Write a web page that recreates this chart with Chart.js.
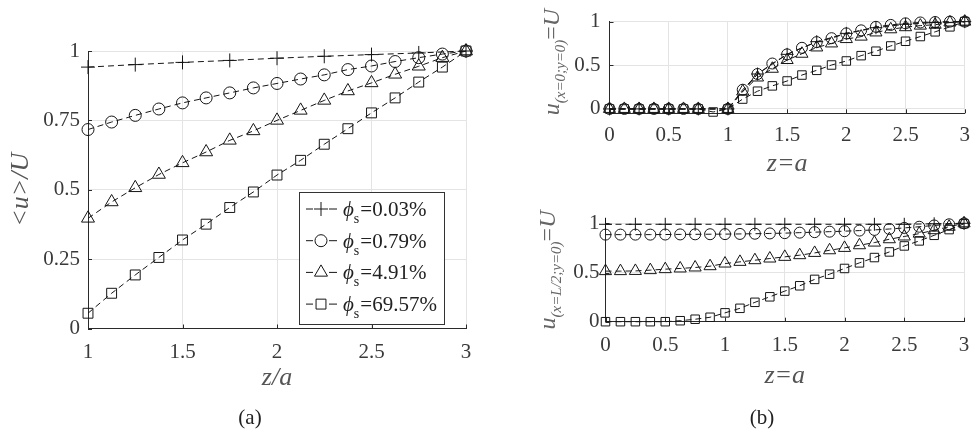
<!DOCTYPE html>
<html>
<head>
<meta charset="utf-8">
<script src="https://cdn.jsdelivr.net/npm/chart.js@4/dist/chart.umd.min.js"></script>
<style>
  html, body { margin: 0; padding: 0; background: #fff; }
  #wrap { position: relative; width: 980px; height: 429px; overflow: hidden; }
  canvas { position: absolute; }
  #cA { left: 0; top: 0; }
  #cB { left: 490px; top: 0; }
  #cC { left: 490px; top: 180px; }
</style>
</head>
<body>
<div id="wrap">
  <canvas id="cA" width="490" height="429"></canvas>
  <canvas id="cB" width="490" height="180"></canvas>
  <canvas id="cC" width="490" height="249"></canvas>
</div>
<script>
// (a) mean velocity <u>/U against z/a
const zLeft = [1, 1.125, 1.25, 1.375, 1.5, 1.625, 1.75, 1.875, 2, 2.125, 2.25, 2.375, 2.5, 2.625, 2.75, 2.875, 3];
const zLeftCoarse = [1, 1.25, 1.5, 1.75, 2, 2.25, 2.5, 2.75, 3];
const uAvg003 = [0.942, 0.951, 0.959, 0.966, 0.974, 0.981, 0.987, 0.993, 1.0];
const uAvg079 = [0.717, 0.744, 0.768, 0.791, 0.813, 0.831, 0.849, 0.867, 0.883, 0.899, 0.914, 0.933, 0.946, 0.962, 0.976, 0.989, 1.0];
const uAvg491 = [0.397, 0.456, 0.507, 0.555, 0.597, 0.636, 0.678, 0.712, 0.750, 0.786, 0.822, 0.856, 0.885, 0.916, 0.945, 0.976, 1.0];
const uAvg6957 = [0.055, 0.127, 0.193, 0.256, 0.319, 0.376, 0.436, 0.492, 0.553, 0.606, 0.664, 0.720, 0.777, 0.831, 0.888, 0.942, 1.0];
const phiLabels = ['0.03%', '0.79%', '4.91%', '69.57%'];

// (b) profiles at x=0 (top) and x=L/2 (bottom)
const zRight = [0, 0.125, 0.25, 0.375, 0.5, 0.625, 0.75, 0.875, 1, 1.125, 1.25, 1.375, 1.5, 1.625, 1.75, 1.875, 2, 2.125, 2.25, 2.375, 2.5, 2.625, 2.75, 2.875, 3];
const zRightCoarse = [0, 0.25, 0.5, 0.75, 1, 1.25, 1.5, 1.75, 2, 2.25, 2.5, 2.75, 3];
const uCenter003 = [0, 0, 0, 0, 0, 0.40, 0.625, 0.77, 0.865, 0.93, 0.97, 0.99, 1.0];
const uCenter079 = [0, 0, 0, 0, 0, 0, 0, null, 0, 0.22, 0.40, 0.52, 0.625, 0.70, 0.765, 0.81, 0.865, 0.90, 0.94, 0.962, 0.98, 0.99, 0.995, 1.0, 1.0];
const uCenter491 = [0, 0, 0, 0, 0, 0, 0, null, 0, 0.20, 0.36, 0.46, 0.56, 0.632, 0.704, 0.75, 0.80, 0.828, 0.876, 0.912, 0.936, 0.954, 0.964, 0.99, 1.0];
const uCenter6957 = [0, 0, 0, 0, 0, 0, 0, -0.035, 0, 0.113, 0.203, 0.264, 0.32, 0.388, 0.442, 0.503, 0.549, 0.61, 0.661, 0.721, 0.775, 0.829, 0.883, 0.94, 1.0];
const uMid003 = [0.99, 0.99, 0.99, 0.99, 0.99, 0.99, 0.99, 0.99, 0.99, 0.99, 0.99, 0.995, 1.0];
const uMid079 = [0.885, 0.885, 0.885, 0.885, 0.886, 0.887, 0.888, 0.889, 0.89, 0.892, 0.894, 0.897, 0.9, 0.905, 0.91, 0.915, 0.92, 0.926, 0.933, 0.942, 0.953, 0.965, 0.978, 0.99, 1.0];
const uMid491 = [0.514, 0.514, 0.516, 0.524, 0.534, 0.541, 0.551, 0.564, 0.591, 0.608, 0.625, 0.642, 0.659, 0.676, 0.699, 0.726, 0.75, 0.777, 0.804, 0.838, 0.866, 0.895, 0.93, 0.965, 1.0];
const uMid6957 = [0, 0, 0, 0, 0, 0.01, 0.025, 0.045, 0.09, 0.136, 0.197, 0.253, 0.311, 0.365, 0.43, 0.483, 0.541, 0.598, 0.652, 0.709, 0.77, 0.821, 0.878, 0.936, 0.995];

const xTicksLeft = [1, 1.5, 2, 2.5, 3];
const yTicksLeft = [0, 0.25, 0.5, 0.75, 1];
const xTicksRight = [0, 0.5, 1, 1.5, 2, 2.5, 3];
const yTicksRight = [0, 0.5, 1];

const FAMILY = 'Liberation Serif';
const ink = '#151515';
const gridColor = '#e4e4e4';
const axisColor = '#2a2a2a';
const tickColor = '#3a3a3a';
const titleColor = '#555';

function fnt(size, italic) {
  return (italic ? 'italic ' : '') + size + 'px "' + FAMILY + '"';
}

function series(xs, ys, style, r) {
  return {
    data: xs.map((x, i) => ({ x: x, y: ys[i] })),
    borderColor: ink,
    borderWidth: 1,
    borderDash: [6, 4],
    pointStyle: style,
    pointRadius: r,
    pointHoverRadius: r,
    pointBorderWidth: 1,
    pointBorderColor: ink,
    pointBackgroundColor: 'rgba(0,0,0,0)',
    fill: false,
    tension: 0,
    spanGaps: true,
    clip: false
  };
}

function xAxis(min, max, ticks, title, tickPad, titlePad, height) {
  return {
    type: 'linear', min: min, max: max,
    afterBuildTicks: s => { s.ticks = ticks.map(v => ({ value: v })); },
    afterFit: s => { s.height = height; },
    grid: { color: gridColor, drawTicks: false },
    border: { color: axisColor, width: 1 },
    ticks: { padding: tickPad, color: tickColor, maxRotation: 0, autoSkip: false,
             font: { family: FAMILY, size: 21 }, callback: v => String(v) },
    title: { display: true, text: title, color: titleColor, padding: { top: 0, bottom: titlePad },
             font: { family: FAMILY, size: 26, style: 'italic' } }
  };
}

function yAxis(min, max, ticks, width, tickPad, title, titlePad) {
  return {
    type: 'linear', min: min, max: max,
    afterBuildTicks: s => { s.ticks = ticks.map(v => ({ value: v })); },
    afterFit: s => { s.width = width; },
    grid: { color: gridColor, drawTicks: false },
    border: { color: axisColor, width: 1 },
    ticks: { padding: tickPad, color: tickColor, font: { family: FAMILY, size: 21 }, callback: v => String(v) },
    title: { display: !!title, text: title || '', color: titleColor, padding: { top: titlePad || 0, bottom: 0 },
             font: { family: FAMILY, size: 26, style: 'italic' } }
  };
}

// short inward tick marks on the two axes
const inwardTicks = {
  id: 'inwardTicks',
  beforeDatasetsDraw(chart) {
    const ctx = chart.ctx, a = chart.chartArea;
    ctx.save();
    ctx.strokeStyle = axisColor;
    ctx.lineWidth = 1;
    ctx.beginPath();
    chart.scales.x.ticks.forEach(t => {
      const px = Math.round(chart.scales.x.getPixelForValue(t.value)) + 0.5;
      ctx.moveTo(px, a.bottom); ctx.lineTo(px, a.bottom - 4);
    });
    chart.scales.y.ticks.forEach(t => {
      const py = Math.round(chart.scales.y.getPixelForValue(t.value)) + 0.5;
      ctx.moveTo(a.left, py); ctx.lineTo(a.left + 4, py);
    });
    ctx.stroke();
    ctx.restore();
  }
};

function caption(ctx, text, x, y) {
  ctx.save();
  ctx.fillStyle = '#222';
  ctx.font = fnt(21);
  ctx.textAlign = 'center';
  ctx.textBaseline = 'middle';
  ctx.fillText(text, x, y);
  ctx.restore();
}

function rotatedSubLabel(ctx, cx, cy, parts) {
  ctx.save();
  ctx.translate(cx, cy);
  ctx.rotate(-Math.PI / 2);
  ctx.fillStyle = '#666';
  ctx.textBaseline = 'alphabetic';
  let total = 0;
  parts.forEach(p => { ctx.font = p.font; p.w = ctx.measureText(p.t).width; total += p.w; });
  let x = -total / 2;
  parts.forEach(p => { ctx.font = p.font; ctx.fillText(p.t, x, p.dy); x += p.w; });
  ctx.restore();
}

function drawMarker(ctx, style, r, x, y) {
  if (Chart.helpers && Chart.helpers.drawPoint) {
    Chart.helpers.drawPoint(ctx, { pointStyle: style, radius: r, rotation: 0, borderWidth: 1 }, x, y);
  }
}

const legendBox = {
  id: 'legendBox',
  afterDraw(chart) {
    const ctx = chart.ctx;
    const bx = 299, by = 192, bw = 145, bh = 132;
    ctx.save();
    ctx.fillStyle = '#fff';
    ctx.fillRect(bx, by, bw, bh);
    ctx.strokeStyle = '#333';
    ctx.lineWidth = 1;
    ctx.strokeRect(bx + 0.5, by + 0.5, bw, bh);
    chart.data.datasets.forEach((ds, i) => {
      const y = by + 17 + i * 31.7;
      ctx.strokeStyle = ink;
      ctx.fillStyle = 'rgba(0,0,0,0)';
      ctx.lineWidth = 1;
      ctx.beginPath();
      ctx.moveTo(306, y); ctx.lineTo(313, y);
      ctx.moveTo(329, y); ctx.lineTo(337, y);
      ctx.stroke();
      drawMarker(ctx, ds.pointStyle, ds.pointRadius, 321, y);
      ctx.fillStyle = '#222';
      ctx.textBaseline = 'alphabetic';
      ctx.font = fnt(21, true);
      ctx.fillText('\u03D5', 343, y + 7);
      let x = 343 + ctx.measureText('\u03D5').width;
      ctx.font = fnt(14);
      ctx.fillText('s', x, y + 14);
      x += ctx.measureText('s').width + 1;
      ctx.font = fnt(21);
      ctx.fillText('=' + phiLabels[i], x, y + 7);
    });
    ctx.restore();
    caption(ctx, '(a)', 250, 418);
  }
};

function build() {
  Chart.defaults.font.family = FAMILY;
  const common = { responsive: false, animation: false, events: [],
                   plugins: { legend: { display: false }, tooltip: { enabled: false } } };

  new Chart(document.getElementById('cA'), {
    type: 'line',
    data: {
      datasets: [
        series(zLeftCoarse, uAvg003, 'cross', 7),
        series(zLeft, uAvg079, 'circle', 6),
        series(zLeft, uAvg491, 'triangle', 7.5),
        series(zLeft, uAvg6957, 'rect', 7)
      ]
    },
    options: Object.assign({}, common, {
      layout: { padding: { left: 0, right: 24, top: 51, bottom: 0 } },
      scales: {
        x: xAxis(1, 3, xTicksLeft, 'z/a', 11, 35, 429 - 328.5),
        y: yAxis(0, 1, yTicksLeft, 88, 8, '<u>/U', 6)
      }
    }),
    plugins: [inwardTicks, legendBox]
  });

  new Chart(document.getElementById('cB'), {
    type: 'line',
    data: {
      datasets: [
        series(zRightCoarse, uCenter003, 'cross', 6.5),
        series(zRight, uCenter079, 'circle', 5.5),
        series(zRight, uCenter491, 'triangle', 7),
        series(zRight, uCenter6957, 'rect', 6)
      ]
    },
    options: Object.assign({}, common, {
      layout: { padding: { left: 0, right: 7, top: 16, bottom: 0 } },
      scales: {
        x: xAxis(0, 3, xTicksRight, 'z=a', 10, 0, 180 - 113.3),
        y: yAxis(-0.05, 1, yTicksRight, 119.5, 9)
      }
    }),
    plugins: [inwardTicks, {
      id: 'yLabelTop',
      afterDraw(chart) {
        rotatedSubLabel(chart.ctx, 63, 62, [
          { t: 'u', font: fnt(24, true), dy: 6 },
          { t: '(x=0;y=0)', font: fnt(15, true), dy: 12 },
          { t: '=', font: fnt(24), dy: 6 },
          { t: 'U', font: fnt(24, true), dy: 6 }
        ]);
      }
    }]
  });

  new Chart(document.getElementById('cC'), {
    type: 'line',
    data: {
      datasets: [
        series(zRightCoarse, uMid003, 'cross', 6.5),
        series(zRight, uMid079, 'circle', 5.5),
        series(zRight, uMid491, 'triangle', 7),
        series(zRight, uMid6957, 'rect', 6)
      ]
    },
    options: Object.assign({}, common, {
      layout: { padding: { left: 0, right: 7, top: 43.3, bottom: 0 } },
      scales: {
        x: xAxis(0, 3, xTicksRight, 'z=a', 10.7, 37, 249 - 141.7),
        y: yAxis(0, 1, yTicksRight, 115.5, 6)
      }
    }),
    plugins: [inwardTicks, {
      id: 'yLabelBottom',
      afterDraw(chart) {
        rotatedSubLabel(chart.ctx, 59, 90, [
          { t: 'u', font: fnt(24, true), dy: 6 },
          { t: '(x=L/2;y=0)', font: fnt(15, true), dy: 12 },
          { t: '=', font: fnt(24), dy: 6 },
          { t: 'U', font: fnt(24, true), dy: 6 }
        ]);
        caption(chart.ctx, '(b)', 272, 238);
      }
    }]
  });
}

Promise.all([
  document.fonts.load(fnt(21)),
  document.fonts.load(fnt(21, true))
]).then(build, build);
</script>
</body>
</html>
